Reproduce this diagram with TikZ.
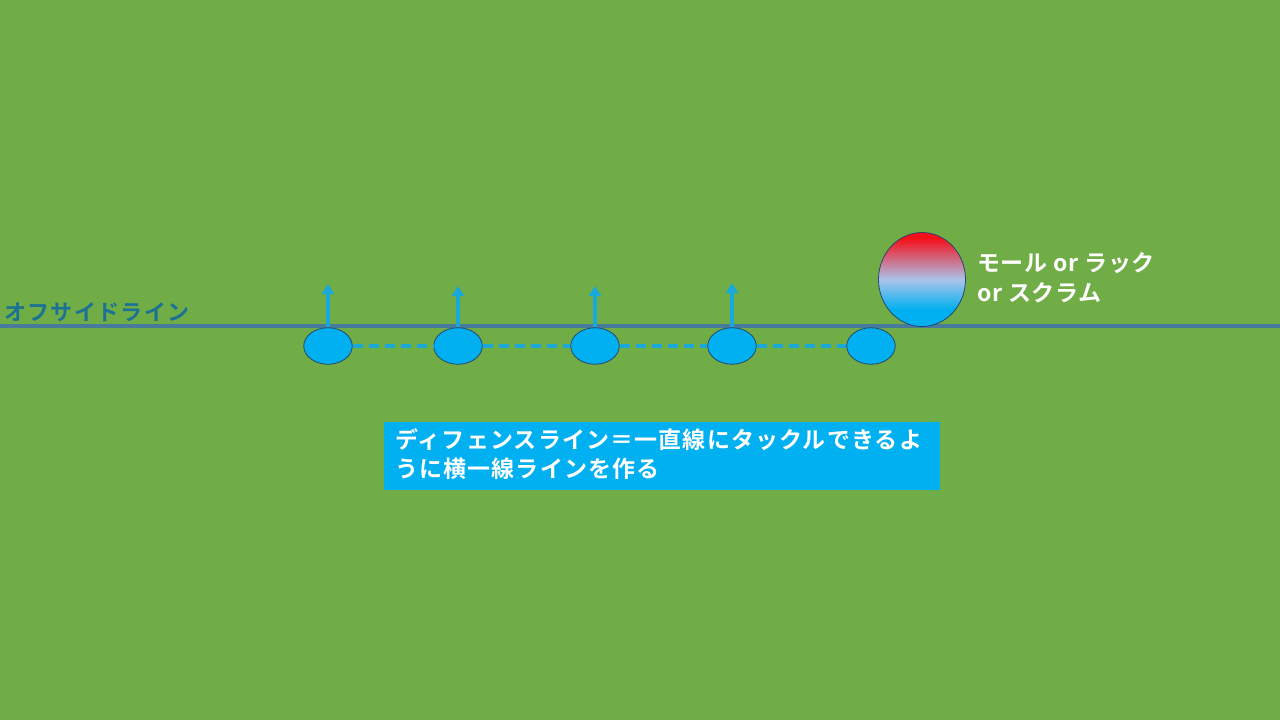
\documentclass[tikz,border=0pt]{standalone}
\usepackage{fontspec}
\newfontfamily\jp{Noto Sans CJK JP}[BoldFont={Noto Sans CJK JP Bold}]
\newfontfamily\jpa{Noto Sans CJK JP}[BoldFont={Noto Sans CJK JP Bold},LetterSpace=5]
\newfontfamily\jpb{Noto Sans CJK JP}[BoldFont={Noto Sans CJK JP Bold},LetterSpace=6]
\newfontfamily\jpc{Noto Sans CJK JP}[BoldFont={Noto Sans CJK JP Bold},LetterSpace=3]
\usetikzlibrary{shapes.geometric,arrows.meta}
\definecolor{field}{HTML}{70AD47}
\definecolor{offline}{RGB}{72,122,156}
\definecolor{offtext}{RGB}{28,114,146}
\definecolor{player}{HTML}{00B0F0}
\definecolor{pborder}{RGB}{40,70,110}
\definecolor{arrowc}{RGB}{24,168,218}
\definecolor{redc}{RGB}{245,15,25}
\definecolor{lav}{RGB}{170,195,235}
\pgfdeclareverticalshading{mrsshade}{100bp}{color(0bp)=(player); color(25bp)=(player); color(34bp)=(player); color(50bp)=(lav); color(72bp)=(redc); color(100bp)=(redc)}
\tikzset{
  playerbox/.style={ellipse, draw=pborder, line width=0.8pt, fill=player, minimum width=48.5pt, minimum height=36.5pt, inner sep=0pt},
  runarrow/.style={draw=arrowc, line width=3.5pt, -{Triangle[width=12pt,length=10pt]}},
  dline/.style={draw=arrowc, line width=3.5pt, dash pattern=on 10pt off 6pt},
  wtext/.style={text=white, inner sep=0pt, align=left}
}
\begin{document}
\begin{tikzpicture}[x=1pt,y=-1pt]
\fill[field] (0,0) rectangle (1280,720);
\useasboundingbox (0,0) rectangle (1280,720);
% offside line
\coordinate (L0) at (0,326);
\coordinate (L1) at (1280,326);
\draw[offline, line width=4pt] (L0) -- (L1);
\node[anchor=base west, text=offtext, font=\jpb\bfseries\fontsize{22pt}{24pt}\selectfont, inner sep=0pt] (offlabel) at (4,320) {オフサイドライン};
% players
\node[playerbox] (e1) at (328,346) {};
\node[playerbox] (e2) at (458,346) {};
\node[playerbox] (e3) at (595,346) {};
\node[playerbox] (e4) at (732,346) {};
\node[playerbox] (e5) at (871,346) {};
\draw[dline] (e1.east) -- (e2.west);
\draw[dline] (e2.east) -- (e3.west);
\draw[dline] (e3.east) -- (e4.west);
\draw[dline] (e4.east) -- (e5.west);
\coordinate (a1) at (328,284);
\coordinate (a2) at (458,286);
\coordinate (a3) at (595,286);
\coordinate (a4) at (732,283);
\draw[runarrow] (e1.north) -- (a1);
\draw[runarrow] (e2.north) -- (a2);
\draw[runarrow] (e3.north) -- (a3);
\draw[runarrow] (e4.north) -- (a4);
% maul/ruck/scrum
\node[ellipse, draw=pborder, line width=0.8pt, shading=mrsshade, minimum width=87pt, minimum height=94pt, inner sep=0pt] (mrs) at (922,279.5) {};
\node[wtext, font=\jpc\bfseries\fontsize{23pt}{30pt}\selectfont, anchor=north west] (mrslabel) at (977,252) {モール or ラック\\or スクラム};
% defence box
\node[fill=player, anchor=north west, minimum width=556pt, minimum height=68pt, inner sep=0pt] (dbox) at (384,422) {};
\node[wtext, font=\jpa\bfseries\fontsize{23pt}{29pt}\selectfont, anchor=north west] (dtext) at (395,428) {ディフェンスライン＝一直線にタックルできるよ\\うに横一線ラインを作る};
\end{tikzpicture}
\end{document}
